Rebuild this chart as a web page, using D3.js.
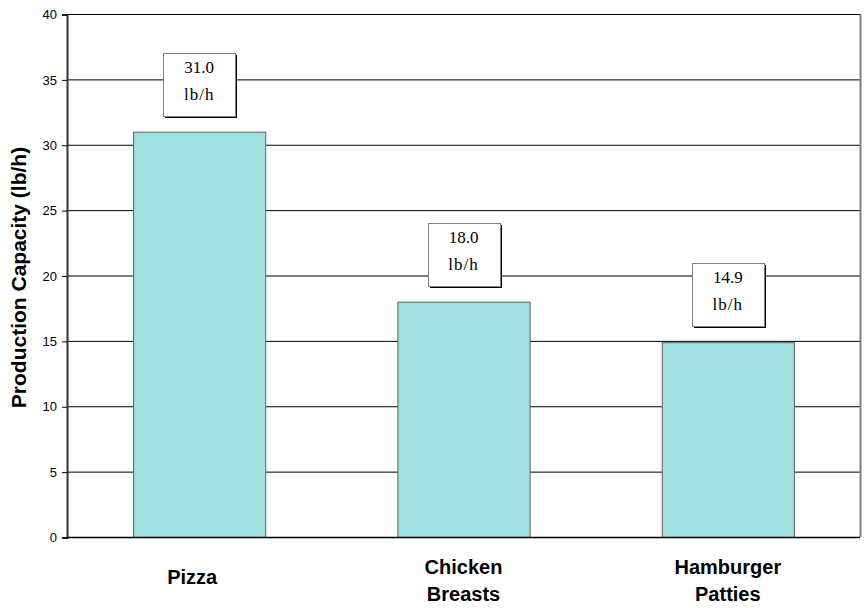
<!DOCTYPE html>
<html>
<head>
<meta charset="utf-8">
<script src="https://cdn.jsdelivr.net/npm/d3@7"></script>
<style>
html,body{margin:0;padding:0;background:#fff;}
svg{display:block;}
</style>
</head>
<body>
<svg id="chart" width="865" height="608"></svg>
<script>
const categories = [["Pizza"], ["Chicken", "Breasts"], ["Hamburger", "Patties"]];
const values = [31.0, 18.0, 14.9];
const valueLabels = ["31.0", "18.0", "14.9"];
const unitLabel = "lb/h";
const yTicks = [0, 5, 10, 15, 20, 25, 30, 35, 40];
const yTitle = "Production Capacity (lb/h)";

(function () {
const svg = d3.select("#chart");
const pL = 67, pR = 860, pT = 14, pB = 537;
const keys = categories.map(c => c.join(" "));

const x = d3.scaleBand().domain(keys).range([pL, pR]).paddingInner(0.5).paddingOuter(0.25);
const y = d3.scaleLinear().domain([0, 40]).range([pB, pT]);

// gridlines
svg.append("g").selectAll("line").data(yTicks.filter(t => t > 0)).join("line")
  .attr("x1", pL).attr("x2", pR)
  .attr("y1", d => y(d) + 0.5).attr("y2", d => y(d) + 0.5)
  .attr("stroke", "#000").attr("stroke-width", 1);

// right border
svg.append("line").attr("x1", pR + 0.5).attr("x2", pR + 0.5)
  .attr("y1", pT).attr("y2", pB).attr("stroke", "#808080").attr("stroke-width", 2);

// bars
svg.append("g").selectAll("rect").data(values).join("rect")
  .attr("x", (d, i) => x(keys[i]) + 0.5)
  .attr("y", d => y(d) + 0.5)
  .attr("width", x.bandwidth())
  .attr("height", d => pB - y(d))
  .attr("fill", "#a0e0e0")
  .attr("stroke", "#606060").attr("stroke-width", 1);

// y axis
const yAxis = d3.axisLeft(y).tickValues(yTicks).tickSize(5).tickPadding(5).tickFormat(d3.format("d"));
const ag = svg.append("g").attr("transform", `translate(${pL},0.5)`).call(yAxis);
ag.select(".domain").attr("stroke", "#333").attr("stroke-width", 2);
ag.selectAll(".tick line").attr("stroke", "#000");
ag.selectAll(".tick text").attr("font-family", "Arial, 'Liberation Sans', sans-serif")
  .attr("font-size", 13).attr("fill", "#000");

// x baseline
svg.append("line").attr("x1", pL).attr("x2", pR)
  .attr("y1", pB + 0.5).attr("y2", pB + 0.5).attr("stroke", "#000").attr("stroke-width", 1.5);

// y title
svg.append("text")
  .attr("transform", `translate(26,${(pT + pB) / 2 + 2}) rotate(-90)`)
  .attr("text-anchor", "middle")
  .attr("font-family", "Arial, 'Liberation Sans', sans-serif")
  .attr("font-weight", "bold").attr("font-size", 21)
  .text(yTitle);

// category labels
const cg = svg.append("g");
categories.forEach((lines, i) => {
  const cx = x(keys[i]) + x.bandwidth() / 2 - (lines.length === 1 ? 7 : 0);
  const t = cg.append("text")
    .attr("text-anchor", "middle")
    .attr("font-family", "Arial, 'Liberation Sans', sans-serif")
    .attr("font-weight", "bold").attr("font-size", 20).attr("fill", "#000");
  const y0 = lines.length === 1 ? 584 : 574;
  lines.forEach((ln, j) => {
    t.append("tspan").attr("x", cx).attr("y", y0 + j * 27).text(ln);
  });
});

// value label boxes
const bw = 72, bh = 63, gap = 16;
const lg = svg.append("g");
values.forEach((v, i) => {
  const cx = x(keys[i]) + x.bandwidth() / 2;
  const by = y(v) - gap - bh;
  const bx = cx - bw / 2;
  lg.append("rect").attr("x", Math.round(bx) + 2).attr("y", Math.round(by) + 2)
    .attr("width", bw).attr("height", bh).attr("fill", "#000");
  lg.append("rect").attr("x", Math.round(bx) + 0.5).attr("y", Math.round(by) + 0.5)
    .attr("width", bw).attr("height", bh).attr("fill", "#fff")
    .attr("stroke", "#808080").attr("stroke-width", 1);
  const t = lg.append("text").attr("text-anchor", "middle")
    .attr("font-family", "'Liberation Serif', 'Times New Roman', serif")
    .attr("font-size", 17).attr("fill", "#000");
  t.append("tspan").attr("x", cx).attr("y", by + 20).text(valueLabels[i]);
  t.append("tspan").attr("x", cx).attr("y", by + 47).attr("letter-spacing", 1).text(unitLabel);
});
})();
</script>
</body>
</html>
